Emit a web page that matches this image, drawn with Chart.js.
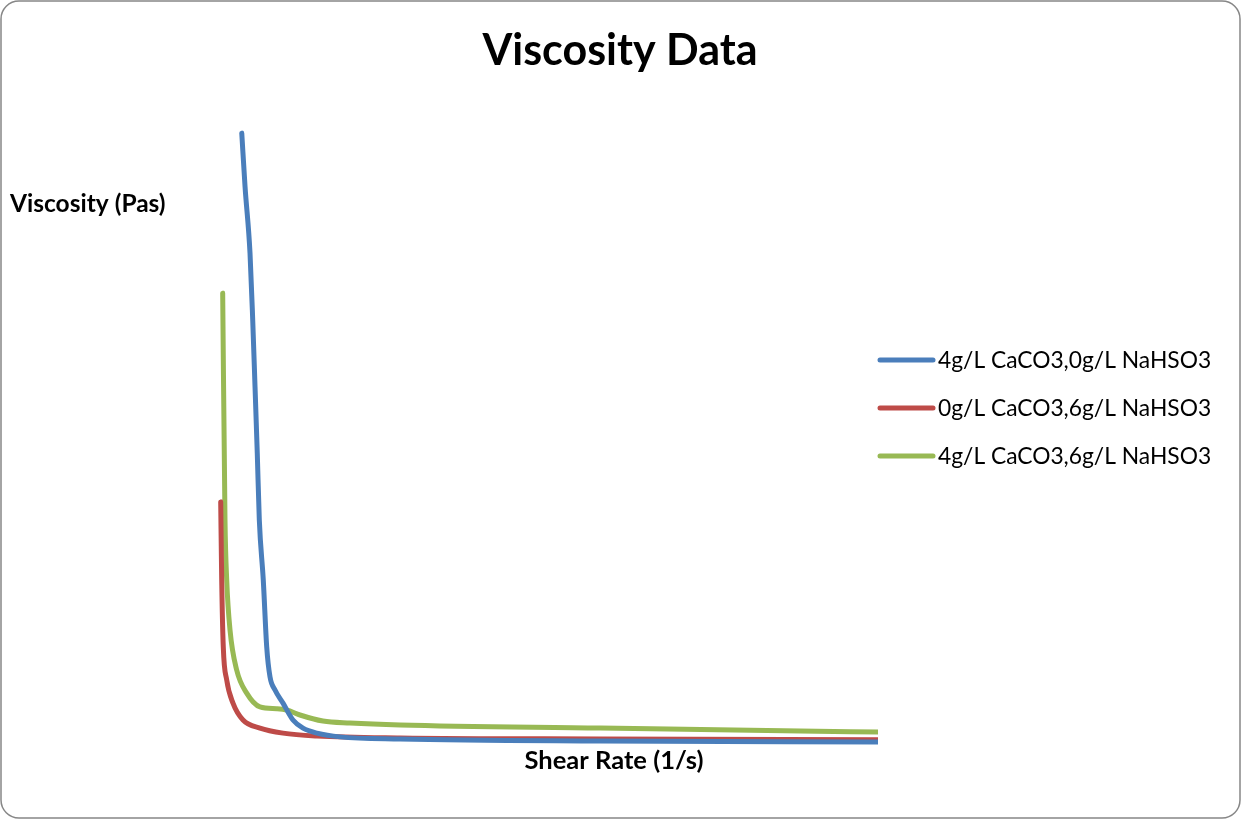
<!DOCTYPE html>
<html>
<head>
<meta charset="utf-8">
<title>Viscosity Data</title>
<script src="https://cdn.jsdelivr.net/npm/chart.js@4/dist/chart.umd.min.js"></script>
<style>
  html, body { margin: 0; padding: 0; background: #ffffff; }
  #wrap { width: 1241px; height: 819px; }
</style>
</head>
<body>
<div id="wrap"><canvas id="viscChart" width="1241" height="819"></canvas></div>
<script>
// Shear rate (1/s) and viscosity (Pa s)
const chartTitle = "Viscosity Data";
const xTitle = "Shear Rate (1/s)";
const yTitle = "Viscosity (Pas)";
const seriesNames = [
  "4g/L CaCO3,0g/L NaHSO3",
  "0g/L CaCO3,6g/L NaHSO3",
  "4g/L CaCO3,6g/L NaHSO3"
];

const blueShear = [36, 41, 48.5, 52.6, 56.1, 59.5, 62.6, 68.6, 73.8, 78.8, 86.4, 98.5, 113.6, 128.8, 150, 185, 276, 579, 1000];
const blueVisc  = [97.9, 89.3, 78.7, 68.0, 57.3, 46.7, 36.0, 26.4, 15.7, 10.9, 8.8, 6.7, 4.0, 2.7, 1.9, 1.3, 0.96, 0.64, 0.48];

const redShear = [4.1, 5.6, 8.0, 13.2, 22.7, 37.9, 63.6, 98.5, 150, 276, 579, 1000];
const redVisc  = [38.9, 26.4, 15.7, 10.4, 6.7, 4.0, 2.7, 1.9, 1.44, 1.12, 0.96, 0.85];

const greenShear = [7.1, 10.6, 13.2, 18.2, 28.3, 43.5, 63.6, 88.9, 104, 124.2, 159, 200, 276, 579, 882, 1000];
const greenVisc  = [72.3, 36.0, 26.4, 18.4, 12.0, 8.3, 6.1, 5.8, 5.6, 4.8, 3.84, 3.52, 3.2, 2.72, 2.24, 2.08];

const colors = ["#4A7EBB", "#BE4B48", "#98B954"];

function toPoints(xs, ys) {
  return xs.map((x, i) => ({ x: x, y: ys[i] }));
}

const FONT = "Lato, 'Noto Sans', sans-serif";

// rounded frame around the chart
const framePlugin = {
  id: "frame",
  beforeDraw(chart) {
    const ctx = chart.ctx;
    ctx.save();
    ctx.fillStyle = "#ffffff";
    ctx.fillRect(0, 0, chart.width, chart.height);
    ctx.strokeStyle = "#878787";
    ctx.lineWidth = 1.5;
    ctx.beginPath();
    ctx.roundRect(1, 1, chart.width - 2, chart.height - 2, 18);
    ctx.stroke();
    ctx.restore();
  }
};

// title, axis titles and legend, placed like the original sheet chart
const labelsPlugin = {
  id: "labels",
  afterDraw(chart) {
    const ctx = chart.ctx;
    ctx.save();
    ctx.fillStyle = "#000000";
    ctx.textBaseline = "alphabetic";

    ctx.font = "bold 43px " + FONT;
    ctx.textAlign = "center";
    ctx.fillText(chartTitle, 620, 65);

    ctx.font = "bold 25.5px " + FONT;
    ctx.fillText(xTitle, 614, 769);
    ctx.font = "bold 24.5px " + FONT;
    ctx.textAlign = "left";
    ctx.fillText(yTitle, 10, 212);

    ctx.font = "22.8px " + FONT;
    chart.data.datasets.forEach((ds, i) => {
      const y = 360 + i * 48;
      ctx.strokeStyle = ds.borderColor;
      ctx.lineWidth = 5;
      ctx.lineCap = "round";
      ctx.beginPath();
      ctx.moveTo(880, y);
      ctx.lineTo(933, y);
      ctx.stroke();
      ctx.fillText(ds.label, 938, y + 7.5);
    });
    ctx.restore();
  }
};

const ctx = document.getElementById("viscChart").getContext("2d");
new Chart(ctx, {
  type: "scatter",
  data: {
    datasets: [
      { label: seriesNames[0], data: toPoints(blueShear, blueVisc), borderColor: colors[0] },
      { label: seriesNames[1], data: toPoints(redShear, redVisc), borderColor: colors[1] },
      { label: seriesNames[2], data: toPoints(greenShear, greenVisc), borderColor: colors[2] }
    ]
  },
  options: {
    responsive: false,
    animation: false,
    datasets: {
      scatter: {
        showLine: true,
        borderWidth: 5,
        pointRadius: 0,
        pointHoverRadius: 0,
        cubicInterpolationMode: "monotone",
        borderCapStyle: "round",
        borderJoinStyle: "round"
      }
    },
    layout: {
      padding: { left: 218, right: 363, top: 120, bottom: 74 }
    },
    scales: {
      x: { type: "linear", min: 0, max: 1000, display: false },
      y: { type: "linear", min: 0, max: 100, display: false }
    },
    plugins: {
      legend: { display: false },
      tooltip: { enabled: false },
      title: { display: false }
    }
  },
  plugins: [framePlugin, labelsPlugin]
});
</script>
</body>
</html>
